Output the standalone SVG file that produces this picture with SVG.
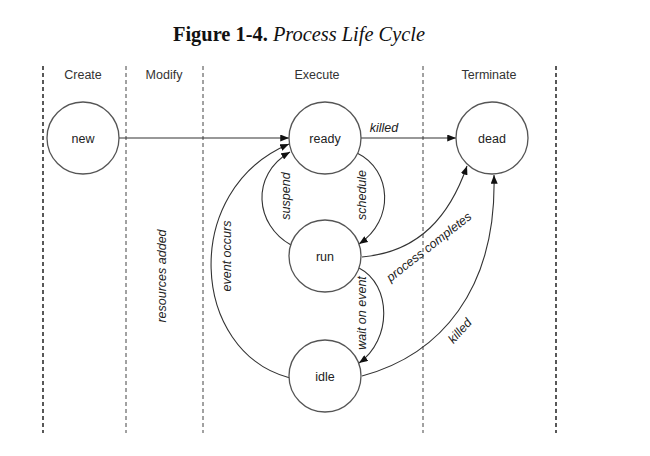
<svg xmlns="http://www.w3.org/2000/svg" width="650" height="456" viewBox="0 0 650 456">
<defs>
<marker id="ah" viewBox="0 0 10 8" refX="10" refY="4" markerWidth="9" markerHeight="7" markerUnits="userSpaceOnUse" orient="auto">
<path d="M0,0 L10,4 L0,8 z" fill="#111"/>
</marker>
<style>
.title{font-family:"Liberation Serif","Times New Roman",serif;font-size:20.4px;fill:#111}
.hdr{font-family:"Liberation Sans",Arial,sans-serif;font-size:12.5px;fill:#333;text-anchor:middle}
.nd{font-family:"Liberation Sans",Arial,sans-serif;font-size:12.5px;fill:#222;text-anchor:middle}
.lbl{font-family:"Liberation Sans",Arial,sans-serif;font-size:12.5px;font-style:italic;fill:#222;text-anchor:middle}
.lane{stroke:#444;stroke-width:1;stroke-dasharray:4 3;fill:none}
.lane2{stroke:#222;stroke-width:1.5;stroke-dasharray:4 3;fill:none}
.node{fill:#fff;stroke:#555;stroke-width:1.3}
.edge{fill:none;stroke:#333;stroke-width:1.1;marker-end:url(#ah)}
</style>
</defs>
<rect width="650" height="456" fill="#fff"/>
<text class="title" x="173" y="41"><tspan font-weight="bold">Figure 1-4.</tspan> <tspan font-style="italic">Process Life Cycle</tspan></text>
<g id="lanes">
<line class="lane2" x1="43" y1="66" x2="43" y2="433"/>
<line class="lane" x1="126" y1="66" x2="126" y2="433"/>
<line class="lane" x1="203" y1="66" x2="203" y2="433"/>
<line class="lane" x1="423" y1="66" x2="423" y2="433"/>
<line class="lane2" x1="556" y1="66" x2="556" y2="433"/>
<text class="hdr" x="83" y="79">Create</text>
<text class="hdr" x="164" y="79">Modify</text>
<text class="hdr" x="317" y="79">Execute</text>
<text class="hdr" x="489" y="79">Terminate</text>
</g>
<g id="connectors">
<path class="edge" d="M119,138 L289,138"/>
<path class="edge" d="M361,138 L456,138"/>
<path class="edge" d="M357,153 C392,170 395,220 359,244"/>
<path class="edge" d="M291,245 C255,225 250,175 290,152"/>
<path class="edge" d="M290,378 C190,352 180,190 289,144"/>
<path class="edge" d="M362,257 C420,252 450,215 467,166"/>
<path class="edge" d="M359,268 C392,285 392,340 359,363"/>
<path class="edge" d="M362,376 C440,355 497,290 494,175"/>
<text class="lbl" x="384" y="132">killed</text>
<text class="lbl" transform="translate(286,196) rotate(-90)" y="4">suspend</text>
<text class="lbl" transform="translate(362,195) rotate(-90)" y="4">schedule</text>
<text class="lbl" transform="translate(227,256) rotate(-90)" y="4">event occurs</text>
<text class="lbl" transform="translate(362,313) rotate(-90)" y="4">wait on event</text>
<text class="lbl" transform="translate(162,276) rotate(-90)" y="4">resources added</text>
<text class="lbl" transform="translate(429,247) rotate(-38)" y="4">process completes</text>
<text class="lbl" transform="translate(460,331) rotate(-48)" y="4">killed</text>
</g>
<g id="node-new"><circle class="node" cx="83" cy="138" r="36"/><text class="nd" x="83" y="143">new</text></g>
<g id="node-ready"><circle class="node" cx="325" cy="138" r="36"/><text class="nd" x="325" y="143">ready</text></g>
<g id="node-dead"><circle class="node" cx="492" cy="138" r="36"/><text class="nd" x="492" y="143">dead</text></g>
<g id="node-run"><circle class="node" cx="325" cy="256" r="36"/><text class="nd" x="325" y="261">run</text></g>
<g id="node-idle"><circle class="node" cx="325" cy="376" r="36"/><text class="nd" x="325" y="381">idle</text></g>
</svg>
